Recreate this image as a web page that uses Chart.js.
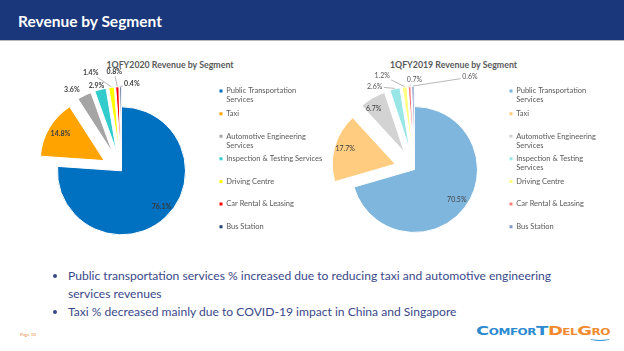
<!DOCTYPE html>
<html>
<head>
<meta charset="utf-8">
<script src="https://cdn.jsdelivr.net/npm/chart.js@4.4.1/dist/chart.umd.min.js"></script>
<style>
  html, body { margin: 0; padding: 0; background: #fff; }
  body { width: 624px; height: 351px; position: relative; overflow: hidden; font-family: Lato, "Open Sans", sans-serif; }
  .header { position: absolute; left: 0; top: 0; width: 624px; height: 40px; background: #1b377b; }
  .header h1 { margin: 0; position: absolute; left: 18px; top: 12px; font-size: 15.5px; font-weight: bold; color: #fff; }
  .rule { position: absolute; left: 0; top: 40px; width: 624px; height: 1px; background: #b8b8b8; }
  .chartBox { position: absolute; top: 50px; height: 215px; }
  .chartTitle { position: absolute; top: 59px; width: 200px; margin-left: -100px; text-align: center; font-size: 8.8px; font-weight: bold; color: #595959; }
  .bullets { position: absolute; left: 52px; top: 267px; margin: 0; padding: 0 0 0 16px; font-size: 12.1px; line-height: 18px; color: #3a4889; }
  .page { position: absolute; left: 20px; top: 332px; font-size: 4.5px; color: #f08a3c; }
  .logo { position: absolute; left: 476px; top: 324px; font-family: "DejaVu Sans", sans-serif; font-size: 12px; font-weight: bold; font-variant: small-caps; letter-spacing: -0.3px; white-space: nowrap; transform-origin: 0 0; }
  .logo .c { color: #2b8ad0; }
  .logo .d { color: #f28a2e; }
  .swoosh { position: absolute; left: 590px; top: 336px; width: 20px; height: 4px; border-bottom: 1.5px solid #2b8ad0; border-radius: 0 0 50% 50%; }
</style>
</head>
<body>
<div class="header"><h1>Revenue by Segment</h1></div>
<div class="rule"></div>

<div class="chartTitle" id="title2020" style="left:170px;"></div>
<div class="chartTitle" id="title2019" style="left:453.5px;"></div>
<div class="chartBox" style="left:20px;width:310px;"><canvas id="chart2020"></canvas></div>
<div class="chartBox" style="left:315px;width:309px;"><canvas id="chart2019"></canvas></div>

<ul class="bullets">
  <li>Public transportation services % increased due to reducing taxi and automotive engineering<br>services revenues</li>
  <li>Taxi % decreased mainly due to COVID-19 impact in China and Singapore</li>
</ul>
<div class="page">Page 10</div>
<div class="logo" id="logo"><span class="c">ComforT</span><span class="d">DelGro</span></div>
<div class="swoosh"></div>

<script>
const title2020 = '1QFY2020 Revenue by Segment';
const title2019 = '1QFY2019 Revenue by Segment';

const categories2020 = [
  ['Public Transportation', 'Services'],
  ['Taxi', ''],
  ['Automotive Engineering', 'Services'],
  ['Inspection & Testing Services', ''],
  ['Driving Centre', ''],
  ['Car Rental & Leasing', ''],
  ['Bus Station', '']
];
const categories2019 = [
  ['Public Transportation', 'Services'],
  ['Taxi', ''],
  ['Automotive Engineering', 'Services'],
  ['Inspection & Testing', 'Services'],
  ['Driving Centre', ''],
  ['Car Rental & Leasing', ''],
  ['Bus Station', '']
];

// revenue share, %
const share2020 = [76.1, 14.8, 3.6, 2.9, 1.4, 0.8, 0.4];
const share2019 = [70.5, 17.7, 6.7, 2.6, 1.2, 0.7, 0.6];

const colors2020 = ['#0070c0', '#ffa300', '#a5a5a5', '#33cccc', '#ffff00', '#ff0000', '#1f3f6e'];
const colors2019 = ['#7fb6dd', '#ffcc80', '#d3d3d3', '#99e6e6', '#ffff80', '#ff8080', '#8497c8'];

const FONT = 'Lato, "Open Sans", sans-serif';
const LEGEND_SIZE = 7.5;
const LEGEND_PAD = 4.6;
Chart.defaults.font.family = FONT;

// stretch the logo text to the logo's width
const logo = document.getElementById('logo');
logo.style.transform = 'scaleX(' + (134 / logo.getBoundingClientRect().width) + ')';

/**
 * Draws the pie slices pulled out from the centre (Excel style explosion)
 * then the percentage labels, with leader lines for the small ones.
 */
const explodedPie = {
  id: 'explodedPie',
  beforeDatasetDraw(chart, args, opts) {
    const ctx = chart.ctx;
    const arcs = args.meta.data;
    const values = chart.data.datasets[0].data;

    arcs.forEach((arc, i) => {
      const d = opts.explode[i] || 0;
      const mid = (arc.startAngle + arc.endAngle) / 2;
      ctx.save();
      ctx.translate(Math.cos(mid) * d, Math.sin(mid) * d);
      arc.draw(ctx);
      ctx.restore();
    });

    ctx.save();
    ctx.font = opts.labelFont;
    ctx.textAlign = 'center';
    ctx.textBaseline = 'middle';
    arcs.forEach((arc, i) => {
      const d = opts.explode[i] || 0;
      const mid = (arc.startAngle + arc.endAngle) / 2;
      const cx = arc.x + Math.cos(mid) * d;
      const cy = arc.y + Math.sin(mid) * d;
      const r = arc.outerRadius;
      const [deg, f] = opts.labelPos[i];
      const a = (deg - 90) * Math.PI / 180;
      const lx = cx + Math.cos(a) * f * r;
      const ly = cy + Math.sin(a) * f * r;
      const text = values[i].toFixed(1) + '%';

      if (opts.leader[i]) {
        const ex = cx + Math.cos(mid) * (r + 0.5);
        const ey = cy + Math.sin(mid) * (r + 0.5);
        const w = ctx.measureText(text).width / 2 + 1.5;
        const dx = ex - lx;
        const dy = ey - ly;
        const t = Math.min(w / Math.abs(dx || 1e-6), 4.5 / Math.abs(dy || 1e-6));
        ctx.beginPath();
        ctx.moveTo(lx + dx * t, ly + dy * t);
        ctx.lineTo(ex, ey);
        ctx.lineWidth = 0.8;
        ctx.strokeStyle = '#a6a6a6';
        ctx.stroke();
      }

      ctx.fillStyle = opts.labelColor[i];
      ctx.fillText(text, lx, ly);
    });
    ctx.restore();
    return false;
  }
};

// width Chart.js gives a one column legend on the right
function legendWidth(categories) {
  const ctx = document.createElement('canvas').getContext('2d');
  ctx.font = LEGEND_SIZE + 'px ' + FONT;
  const widest = Math.max(...categories.flat().map(t => ctx.measureText(t).width));
  return LEGEND_PAD + 3 + LEGEND_SIZE / 2 + widest + 10;
}

function makePie(canvasId, titleId, title, categories, values, colors, cfg) {
  document.getElementById(titleId).textContent = title;
  const baseLabels = Chart.controllers.pie.overrides.plugins.legend.labels.generateLabels;
  const canvas = document.getElementById(canvasId);
  const width = canvas.parentNode.clientWidth;
  const padding = { ...cfg.padding, right: width - cfg.legendLeft - legendWidth(categories) };

  return new Chart(canvas, {
    type: 'pie',
    data: {
      labels: categories,
      datasets: [{
        data: values,
        backgroundColor: colors,
        borderColor: '#ffffff',
        borderWidth: 1
      }]
    },
    options: {
      animation: false,
      responsive: true,
      maintainAspectRatio: false,
      events: [],
      radius: cfg.radius,
      layout: { padding },
      plugins: {
        tooltip: { enabled: false },
        title: { display: false },
        legend: {
          position: 'right',
          align: 'start',
          fullSize: false,
          labels: {
            boxWidth: 3,
            boxHeight: 3,
            padding: LEGEND_PAD,
            color: '#595959',
            font: { size: LEGEND_SIZE },
            generateLabels: (chart) => baseLabels(chart).map(item => ({ ...item, lineWidth: 0 }))
          }
        },
        explodedPie: cfg.pie
      }
    },
    plugins: [explodedPie]
  });
}

makePie('chart2020', 'title2020', title2020, categories2020, share2020, colors2020, {
  radius: 64,
  padding: { left: 8.1, top: 32.7, bottom: 6.1 },
  legendLeft: 194.9,
  pie: {
    explode: [0, 20, 20, 20, 20, 20, 20],
    labelPos: [[132, 0.84], [301, 0.80], [327, 1.17], [343, 1.07], [340, 1.30], [355.5, 1.24], [9, 1.06]],
    leader: [false, false, false, false, true, true, true],
    labelFont: 'bold 7px ' + FONT,
    labelColor: ['#3a3a3a', '#404040', '#404040', '#404040', '#404040', '#404040', '#404040']
  }
});

makePie('chart2019', 'title2019', title2019, categories2019, share2019, colors2019, {
  radius: 63,
  padding: { left: 9.1, top: 32.7, bottom: 8.7 },
  legendLeft: 189.9,
  pie: {
    explode: [0, 20, 20, 20, 20, 20, 20],
    labelPos: [[126, 0.83], [287, 0.83], [325, 0.85], [331, 1.15], [338, 1.27], [1, 1.10], [37.7, 1.45]],
    leader: [false, false, false, true, true, true, true],
    labelFont: '7px ' + FONT,
    labelColor: ['#404040', '#404040', '#404040', '#595959', '#595959', '#595959', '#595959']
  }
});
</script>
</body>
</html>
